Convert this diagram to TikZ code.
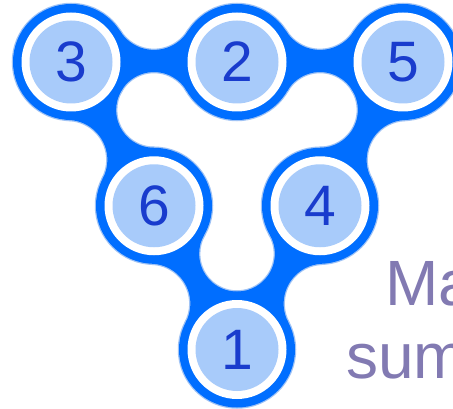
\documentclass[tikz,border=0pt]{standalone}
\usepackage{fontspec}
\newfontfamily\arialfont{Liberation Sans}
\definecolor{bandblue}{RGB}{0,110,255}
\definecolor{rimblue}{RGB}{160,195,245}
\definecolor{fillblue}{RGB}{168,203,250}
\definecolor{digitblue}{RGB}{25,60,205}
\definecolor{textpurple}{RGB}{130,122,178}
\newcommand{\neckshape}[5]{%
  \pgfmathsetmacro{\hL}{sqrt((58+#3)^2-83^2)}%
  \pgfmathsetmacro{\hR}{sqrt((58+#4)^2-83^2)}%
  \pgfmathsetmacro{\aL}{atan2(\hL,83)}%
  \pgfmathsetmacro{\aR}{atan2(\hR,83)}%
  \pgfmathsetmacro{\kL}{58/(58+#3)}%
  \pgfmathsetmacro{\kR}{58/(58+#4)}%
  \path[#5, shift={(#1)}, rotate=#2] (0,0) -- ({\kR*83},{-\kR*\hR})
    arc[start angle={180-\aR}, end angle={\aR}, radius=#4] -- (166,0)
    -- ({166-\kL*83},{\kL*\hL})
    arc[start angle={-\aL}, end angle={-180+\aL}, radius=#3] -- cycle;
}
\newcommand{\allnecks}[1]{%
  \neckshape{c3}{0}{40}{37.8}{#1}
  \neckshape{c2}{0}{40}{37.8}{#1}
  \neckshape{c3}{-60}{37.8}{40}{#1}
  \neckshape{c6}{-60}{37.8}{40}{#1}
  \neckshape{c5}{-120}{40}{37.8}{#1}
  \neckshape{c4}{-120}{40}{37.8}{#1}
}
\begin{document}
\begin{tikzpicture}[x=1pt,y=1pt,
  rimstyle/.style={draw=rimblue, line width=2.5pt},
  bandstyle/.style={fill=bandblue},
  digit/.style={font=\arialfont\fontsize{57}{57}\selectfont, text=digitblue, inner sep=0pt},
  caption/.style={font=\arialfont\fontsize{64}{64}\selectfont, text=textpurple, anchor=base west, inner sep=0pt}]
\useasboundingbox (0,0) rectangle (453,408);
\coordinate (c3) at (71,346);
\coordinate (c2) at (237,346);
\coordinate (c5) at (403,346);
\coordinate (c6) at (154,202.24);
\coordinate (c4) at (320,202.24);
\coordinate (c1) at (237,58.5);
% rim pass
\allnecks{rimstyle}
\foreach \c in {c1,c2,c3,c4,c5,c6} \path[rimstyle] (\c) circle[radius=58];
% band pass
\allnecks{bandstyle}
\foreach \c in {c1,c2,c3,c4,c5,c6} {
  \fill[bandblue] (\c) circle[radius=58];
  \fill[white] (\c) circle[radius=49.5];
  \fill[fillblue] (\c) circle[radius=41.5];
}
\node[digit] (n3) at (c3) {3};
\node[digit] (n2) at (c2) {2};
\node[digit] (n5) at (c5) {5};
\node[digit] (n6) at (c6) {6};
\node[digit] (n4) at (c4) {4};
\node[digit] (n1) at (c1) {1};
\node[caption] (t1) at (385,103) {Ma};
\node[caption] (t2) at (346,30) {sum};
\end{tikzpicture}
\end{document}
